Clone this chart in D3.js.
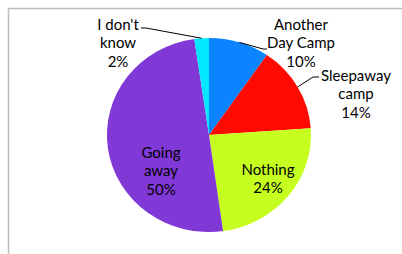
<!DOCTYPE html>
<html>
<head>
<meta charset="utf-8">
<script src="https://cdn.jsdelivr.net/npm/d3@7"></script>
<style>
  body { margin: 0; background: #fff; }
  text { font-family: Lato, "Open Sans", sans-serif; font-size: 15px; fill: #000; }
</style>
</head>
<body>
<div id="chart"></div>
<script>
// Datos
const categories = ["Another Day Camp", "Sleepaway camp", "Nothing", "Going away", "I don't know"];
const values = [9.6, 14.3, 23.9, 49.9, 2.3];
const labelLines = [["Another", "Day Camp"], ["Sleepaway", "camp"], ["Nothing"], ["Going", "away"], ["I don't", "know"]];
const colors = ["#0a84ff", "#ff0a00", "#c6ff1f", "#8038d6", "#00e8ff"];

const width = 402, height = 254;
const cx = 209, cy = 135, ry = 97, rx = 102;

// posiciones de etiquetas (centro de la primera linea, relativo al centro)
const labelPos = [[92, -111], [147, -60], [59, 34], [-48, 17], [-91, -111]];

const svg = d3.select('#chart')
  .append('svg')
  .attr('width', width)
  .attr('height', height);

// Marco
svg.append('path')
  .attr('d', `M8.5,${height}V8.5H${width}`)
  .style('fill', 'none')
  .style('stroke', '#bdbdbd')
  .style('stroke-width', 1.5);

const pie = d3.pie().sort(null).value(d => d)(values);
const arc = d3.arc().innerRadius(0).outerRadius(ry);

const g = svg.append('g')
  .attr('transform', `translate(${cx},${cy})`);

g.append('g')
  .attr('transform', `scale(${rx / ry},1)`)
  .selectAll('path')
  .data(pie)
  .enter().append('path')
  .attr('d', arc)
  .style('fill', (d, i) => colors[i]);

// Lineas guia para las etiquetas exteriores
const edge = (d, frac) => {
  const a = d.startAngle + (d.endAngle - d.startAngle) * frac;
  return [Math.sin(a) * rx, -Math.cos(a) * ry];
};
const guides = [
  { i: 0, frac: 0.5, knee: [54, -86], end: [58, -86] },
  { i: 1, frac: 0.5, knee: [104, -58], end: [110, -58] },
  { i: 4, frac: 0.5, knee: [-63, -107], end: [-68, -107] }
];
guides.forEach(gd => {
  const p = edge(pie[gd.i], gd.frac);
  g.append('path')
    .attr('d', `M${p[0]},${p[1]}L${gd.knee[0]},${gd.knee[1]}L${gd.end[0]},${gd.end[1]}`)
    .style('fill', 'none')
    .style('stroke', '#000')
    .style('stroke-width', 1);
});

// Etiquetas
const total = d3.sum(values);
pie.forEach((d, i) => {
  const lines = labelLines[i].concat([Math.round(d.value / total * 100) + '%']);
  const t = g.append('text')
    .attr('text-anchor', 'middle')
    .attr('x', labelPos[i][0])
    .attr('y', labelPos[i][1] + 5.5);
  lines.forEach((l, k) => {
    t.append('tspan')
      .attr('x', labelPos[i][0])
      .attr('dy', k === 0 ? 0 : 18.6)
      .text(l);
  });
});
</script>
</body>
</html>
